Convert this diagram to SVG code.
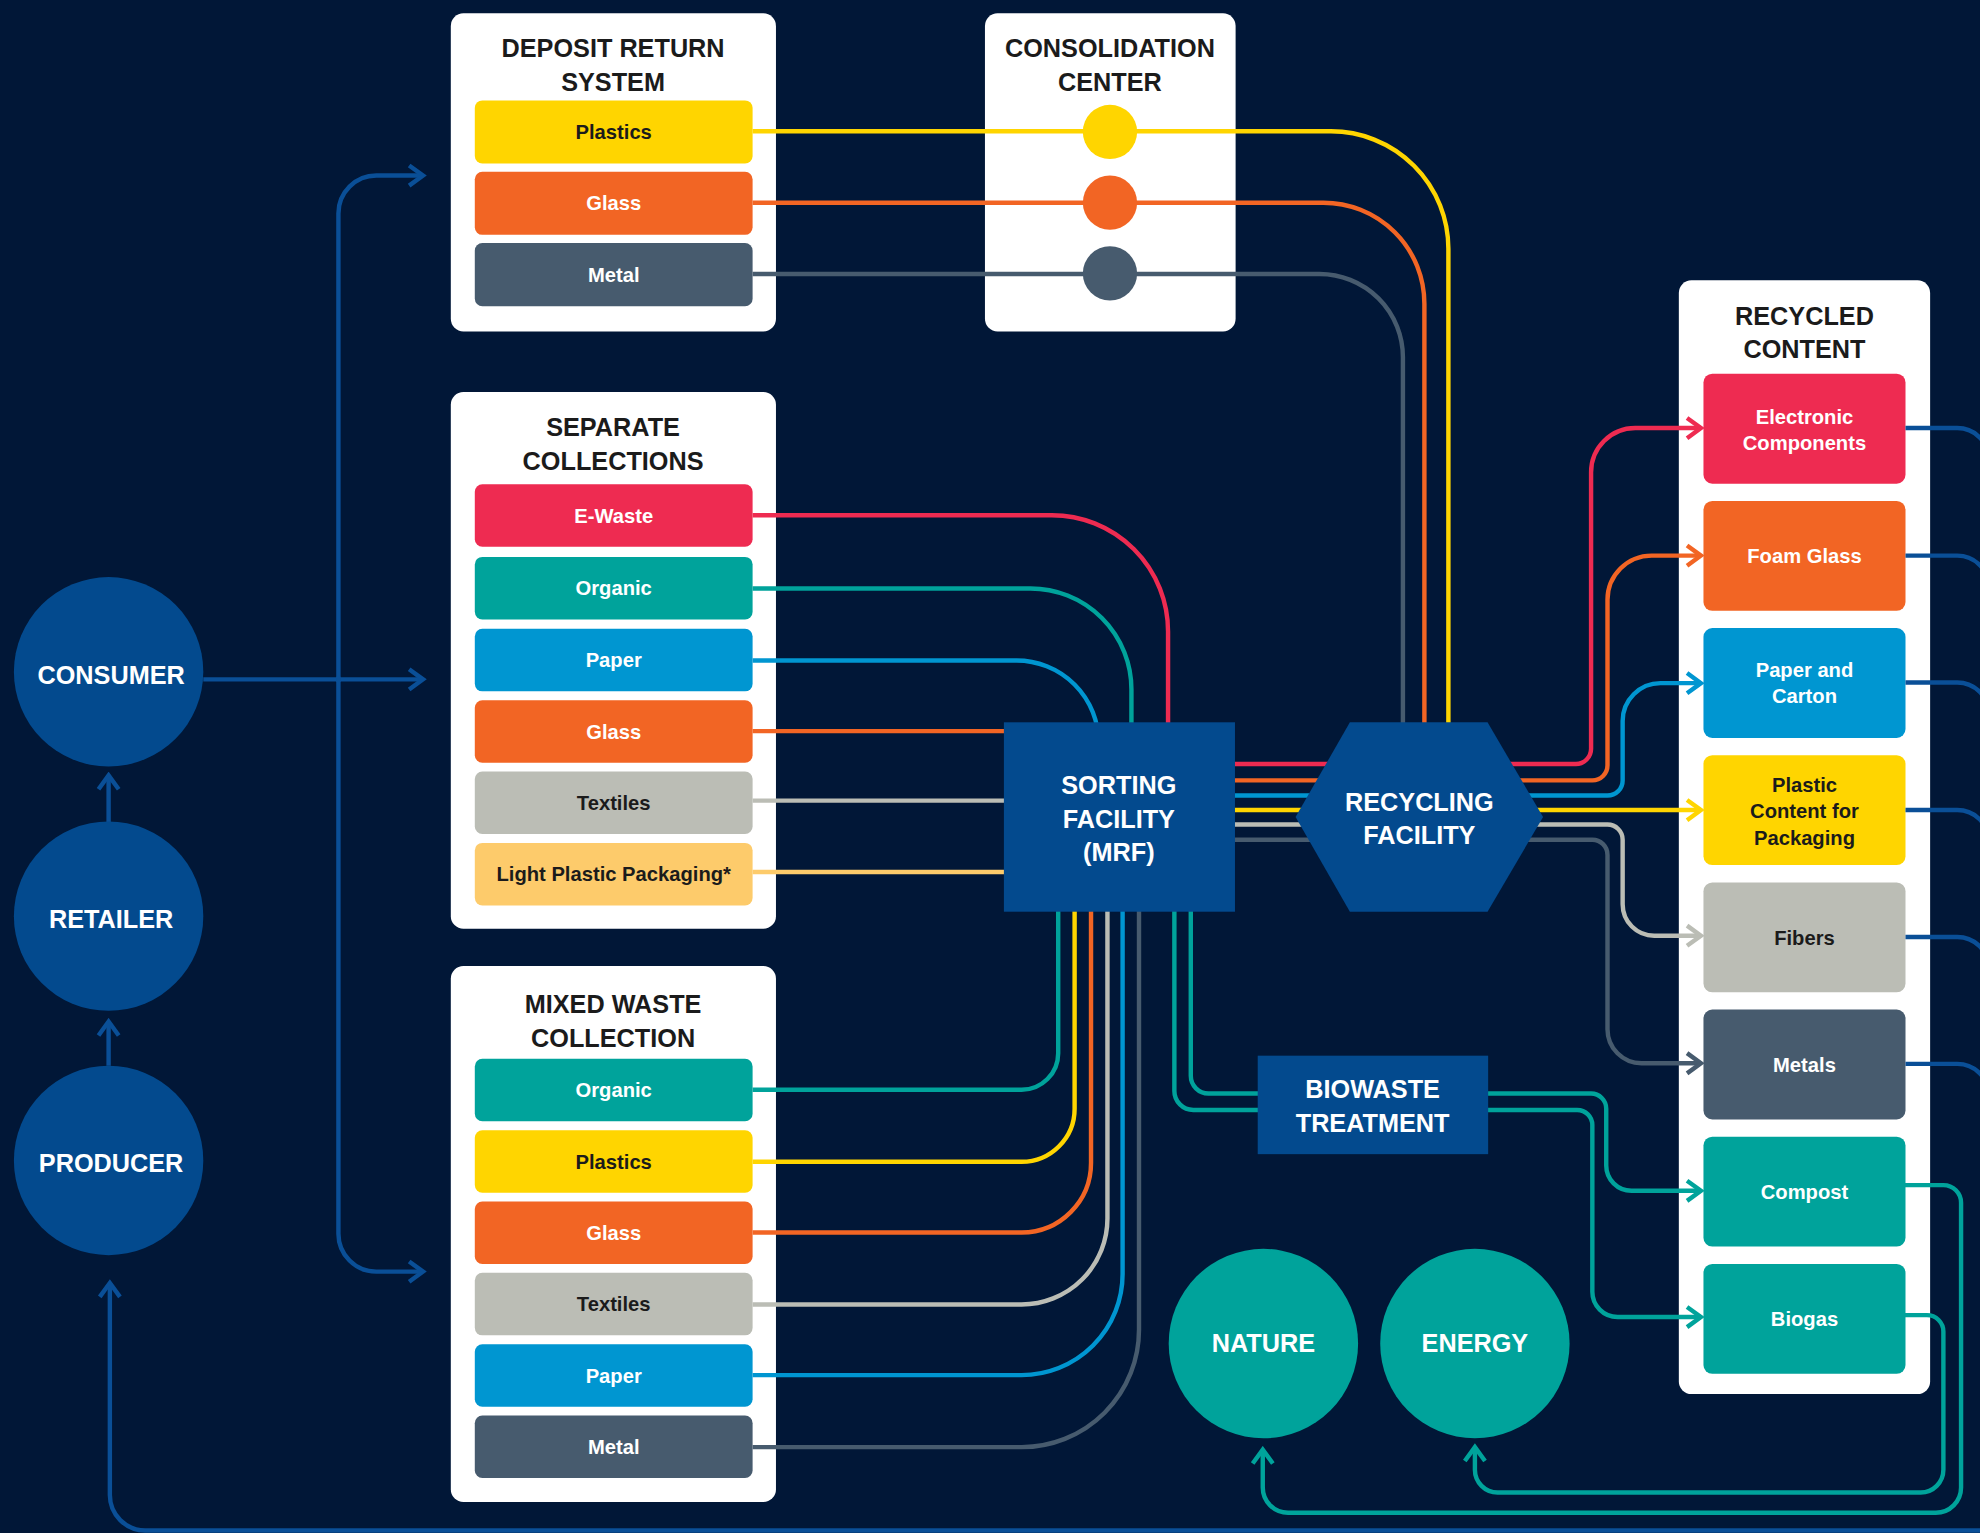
<svg xmlns="http://www.w3.org/2000/svg" width="1980" height="1533" viewBox="0 0 1980 1533">
<style>
.card{fill:#ffffff}
.ttl{font-family:"Liberation Sans",Arial,sans-serif;font-weight:bold;font-size:20px;fill:#1b1b1b;text-anchor:middle}
.lbl{font-family:"Liberation Sans",Arial,sans-serif;font-weight:bold;font-size:16px;text-anchor:middle}
.nl{font-family:"Liberation Sans",Arial,sans-serif;font-weight:bold;font-size:20px;fill:#ffffff;text-anchor:middle}
.w{fill:#ffffff}
.d{fill:#1b1b1b}
.ln{fill:none;stroke-width:3.5}
.node{fill:#034A8E}
.tealnode{fill:#00A39B}
.yel{stroke:#FFD500}.ora{stroke:#F26524}.sla{stroke:#475B6E}.red{stroke:#EE2B51}
.tea{stroke:#00A39B}.cya{stroke:#0096D1}.gry{stroke:#BBBDB5}.lyl{stroke:#FDCB6B}.blu{stroke:#0A4F97}
.fyel{fill:#FFD500}.fora{fill:#F26524}.fsla{fill:#475B6E}.fred{fill:#EE2B51}
.ftea{fill:#00A39B}.fcya{fill:#0096D1}.fgry{fill:#BBBDB5}.flyl{fill:#FDCB6B}
</style>
<defs>
<marker id="a-blu" markerUnits="userSpaceOnUse" viewBox="-14 -11 17 22" markerWidth="17" markerHeight="22" refX="0" refY="0" orient="auto"><path d="M-11,-8 L0,0 L-11,8" fill="none" stroke="#0A4F97" stroke-width="3.5"/></marker>
<marker id="a-red" markerUnits="userSpaceOnUse" viewBox="-14 -11 17 22" markerWidth="17" markerHeight="22" refX="0" refY="0" orient="auto"><path d="M-11,-8 L0,0 L-11,8" fill="none" stroke="#EE2B51" stroke-width="3.5"/></marker>
<marker id="a-ora" markerUnits="userSpaceOnUse" viewBox="-14 -11 17 22" markerWidth="17" markerHeight="22" refX="0" refY="0" orient="auto"><path d="M-11,-8 L0,0 L-11,8" fill="none" stroke="#F26524" stroke-width="3.5"/></marker>
<marker id="a-cya" markerUnits="userSpaceOnUse" viewBox="-14 -11 17 22" markerWidth="17" markerHeight="22" refX="0" refY="0" orient="auto"><path d="M-11,-8 L0,0 L-11,8" fill="none" stroke="#0096D1" stroke-width="3.5"/></marker>
<marker id="a-yel" markerUnits="userSpaceOnUse" viewBox="-14 -11 17 22" markerWidth="17" markerHeight="22" refX="0" refY="0" orient="auto"><path d="M-11,-8 L0,0 L-11,8" fill="none" stroke="#FFD500" stroke-width="3.5"/></marker>
<marker id="a-gry" markerUnits="userSpaceOnUse" viewBox="-14 -11 17 22" markerWidth="17" markerHeight="22" refX="0" refY="0" orient="auto"><path d="M-11,-8 L0,0 L-11,8" fill="none" stroke="#BBBDB5" stroke-width="3.5"/></marker>
<marker id="a-sla" markerUnits="userSpaceOnUse" viewBox="-14 -11 17 22" markerWidth="17" markerHeight="22" refX="0" refY="0" orient="auto"><path d="M-11,-8 L0,0 L-11,8" fill="none" stroke="#475B6E" stroke-width="3.5"/></marker>
<marker id="a-tea" markerUnits="userSpaceOnUse" viewBox="-14 -11 17 22" markerWidth="17" markerHeight="22" refX="0" refY="0" orient="auto"><path d="M-11,-8 L0,0 L-11,8" fill="none" stroke="#00A39B" stroke-width="3.5"/></marker>
</defs>
<rect x="0" y="0" width="1980" height="1533" fill="#011737"/>
<g transform="scale(1.26276)">

<g id="drs">
<rect class="card" x="357" y="10.5" width="257.5" height="252" rx="10"/>
<text class="ttl" x="485.5" y="45">DEPOSIT RETURN</text>
<text class="ttl" x="485.5" y="72">SYSTEM</text>
<rect class="fyel" x="376" y="79.5" width="220" height="50" rx="6"/>
<text class="lbl d" x="486" y="110">Plastics</text>
<rect class="fora" x="376" y="136" width="220" height="50" rx="6"/>
<text class="lbl w" x="486" y="166.5">Glass</text>
<rect class="fsla" x="376" y="192.5" width="220" height="50" rx="6"/>
<text class="lbl w" x="486" y="223">Metal</text>
</g>

<g id="consolidation-center">
<rect class="card" x="780" y="10.5" width="198.5" height="252" rx="10"/>
<text class="ttl" x="879" y="45">CONSOLIDATION</text>
<text class="ttl" x="879" y="72">CENTER</text>
</g>

<g id="separate-collections">
<rect class="card" x="357" y="310.5" width="257.5" height="425" rx="10"/>
<text class="ttl" x="485.5" y="345.5">SEPARATE</text>
<text class="ttl" x="485.5" y="372">COLLECTIONS</text>
<rect class="fred" x="376" y="383.5" width="220" height="49.5" rx="6"/>
<text class="lbl w" x="486" y="414">E-Waste</text>
<rect class="ftea" x="376" y="441" width="220" height="49.5" rx="6"/>
<text class="lbl w" x="486" y="471.5">Organic</text>
<rect class="fcya" x="376" y="498" width="220" height="49.5" rx="6"/>
<text class="lbl w" x="486" y="528.5">Paper</text>
<rect class="fora" x="376" y="554.5" width="220" height="49.5" rx="6"/>
<text class="lbl w" x="486" y="585">Glass</text>
<rect class="fgry" x="376" y="611" width="220" height="49.5" rx="6"/>
<text class="lbl d" x="486" y="641.5">Textiles</text>
<rect class="flyl" x="376" y="667.5" width="220" height="49.5" rx="6"/>
<text class="lbl d" x="486" y="698">Light Plastic Packaging*</text>
</g>

<g id="mixed-waste-collection">
<rect class="card" x="357" y="765" width="257.5" height="424.5" rx="10"/>
<text class="ttl" x="485.5" y="802.5">MIXED WASTE</text>
<text class="ttl" x="485.5" y="829">COLLECTION</text>
<rect class="ftea" x="376" y="838.5" width="220" height="49.5" rx="6"/>
<text class="lbl w" x="486" y="869">Organic</text>
<rect class="fyel" x="376" y="895" width="220" height="49.5" rx="6"/>
<text class="lbl d" x="486" y="925.5">Plastics</text>
<rect class="fora" x="376" y="951.5" width="220" height="49.5" rx="6"/>
<text class="lbl w" x="486" y="982">Glass</text>
<rect class="fgry" x="376" y="1008" width="220" height="49.5" rx="6"/>
<text class="lbl d" x="486" y="1038.5">Textiles</text>
<rect class="fcya" x="376" y="1064.5" width="220" height="49.5" rx="6"/>
<text class="lbl w" x="486" y="1095">Paper</text>
<rect class="fsla" x="376" y="1121" width="220" height="49.5" rx="6"/>
<text class="lbl w" x="486" y="1151.5">Metal</text>
</g>

<g id="recycled-content">
<rect class="card" x="1329.5" y="222" width="199" height="882" rx="10"/>
<text class="ttl" x="1429" y="257">RECYCLED</text>
<text class="ttl" x="1429" y="283.5">CONTENT</text>
<rect class="fred" x="1349" y="296" width="160" height="87" rx="7"/>
<text class="lbl w" x="1429" y="335.5">Electronic</text>
<text class="lbl w" x="1429" y="356.5">Components</text>
<rect class="fora" x="1349" y="396.7" width="160" height="87" rx="7"/>
<text class="lbl w" x="1429" y="446">Foam Glass</text>
<rect class="fcya" x="1349" y="497.4" width="160" height="87" rx="7"/>
<text class="lbl w" x="1429" y="536">Paper and</text>
<text class="lbl w" x="1429" y="557">Carton</text>
<rect class="fyel" x="1349" y="598.1" width="160" height="87" rx="7"/>
<text class="lbl d" x="1429" y="627">Plastic</text>
<text class="lbl d" x="1429" y="648">Content for</text>
<text class="lbl d" x="1429" y="669">Packaging</text>
<rect class="fgry" x="1349" y="698.8" width="160" height="87" rx="7"/>
<text class="lbl d" x="1429" y="748">Fibers</text>
<rect class="fsla" x="1349" y="799.5" width="160" height="87" rx="7"/>
<text class="lbl w" x="1429" y="849">Metals</text>
<rect class="ftea" x="1349" y="900.2" width="160" height="87" rx="7"/>
<text class="lbl w" x="1429" y="949.5">Compost</text>
<rect class="ftea" x="1349" y="1000.9" width="160" height="87" rx="7"/>
<text class="lbl w" x="1429" y="1050">Biogas</text>
</g>

<g id="connectors">
<!-- left side flows -->
<path class="ln blu" d="M161,538 H335" marker-end="url(#a-blu)"/>
<path class="ln blu" d="M268,540 V169 A30,30 0 0 1 298,139 H335" marker-end="url(#a-blu)"/>
<path class="ln blu" d="M268,536 V977 A30,30 0 0 0 298,1007 H335" marker-end="url(#a-blu)"/>
<path class="ln blu" d="M86,651 V614" marker-end="url(#a-blu)"/>
<path class="ln blu" d="M86,844 V809" marker-end="url(#a-blu)"/>
<path class="ln blu" d="M1570,1212 H115 A28,28 0 0 1 87,1184 V1016" marker-end="url(#a-blu)"/>
<!-- deposit return system -> recycling facility -->
<path class="ln yel" d="M596,104 H1054 A93,93 0 0 1 1147,197 V585"/>
<path class="ln ora" d="M596,160.5 H1048 A80,80 0 0 1 1128,240.5 V585"/>
<path class="ln sla" d="M596,217 H1045 A66,66 0 0 1 1111,283 V585"/>
<!-- separate collections -> sorting -->
<path class="ln red" d="M596,408 H833 A92,92 0 0 1 925,500 V585"/>
<path class="ln tea" d="M596,466 H816 A80,80 0 0 1 896,546 V585"/>
<path class="ln cya" d="M596,523 H805 A65,65 0 0 1 870,588 V592"/>
<path class="ln ora" d="M596,579 H805"/>
<path class="ln gry" d="M596,634 H805"/>
<path class="ln lyl" d="M596,690.5 H805"/>
<!-- mixed waste -> sorting -->
<path class="ln tea" d="M596,863 H809 A29,29 0 0 0 838,834 V712"/>
<path class="ln yel" d="M596,920 H809 A42,42 0 0 0 851,878 V712"/>
<path class="ln ora" d="M596,976 H809 A55,55 0 0 0 864,921 V712"/>
<path class="ln gry" d="M596,1033 H809 A68,68 0 0 0 877,965 V712"/>
<path class="ln cya" d="M596,1089 H809 A80,80 0 0 0 889,1009 V712"/>
<path class="ln sla" d="M596,1146 H809 A93,93 0 0 0 902,1053 V712"/>
<!-- sorting -> biowaste -->
<path class="ln tea" d="M930,712 V864 A15,15 0 0 0 945,879 H1000"/>
<path class="ln tea" d="M943,712 V852 A14,14 0 0 0 957,866 H1000"/>
<!-- sorting -> recycling -> recycled content -->
<path class="ln red" d="M975,605 H1248 A12,12 0 0 0 1260,593 V374 A35,35 0 0 1 1295,339 H1347" marker-end="url(#a-red)"/>
<path class="ln ora" d="M975,618 H1261 A12,12 0 0 0 1273,606 V475 A35,35 0 0 1 1308,440 H1347" marker-end="url(#a-ora)"/>
<path class="ln cya" d="M975,630 H1273 A12,12 0 0 0 1285,618 V571 A30,30 0 0 1 1315,541 H1347" marker-end="url(#a-cya)"/>
<path class="ln yel" d="M975,641.5 H1347" marker-end="url(#a-yel)"/>
<path class="ln gry" d="M975,653 H1273 A12,12 0 0 1 1285,665 V716 A25,25 0 0 0 1310,741 H1347" marker-end="url(#a-gry)"/>
<path class="ln sla" d="M975,665 H1261 A12,12 0 0 1 1273,677 V815 A27,27 0 0 0 1300,842 H1347" marker-end="url(#a-sla)"/>
<!-- biowaste -> compost / biogas -->
<path class="ln tea" d="M1175,866 H1260 A12,12 0 0 1 1272,878 V923 A20,20 0 0 0 1292,943 H1347" marker-end="url(#a-tea)"/>
<path class="ln tea" d="M1175,879 H1249 A12,12 0 0 1 1261,891 V1023 A20,20 0 0 0 1281,1043 H1347" marker-end="url(#a-tea)"/>
<!-- compost -> nature, biogas -> energy -->
<path class="ln tea" d="M1508,938.5 H1539 A14,14 0 0 1 1553,952.5 V1178 A20,20 0 0 1 1533,1198 H1020 A20,20 0 0 1 1000,1178 V1148" marker-end="url(#a-tea)"/>
<path class="ln tea" d="M1508,1041.5 H1526 A13,13 0 0 1 1539,1054.5 V1164 A18,18 0 0 1 1521,1182 H1186 A18,18 0 0 1 1168,1164 V1146" marker-end="url(#a-tea)"/>
<!-- recycled content outputs -->
<path class="ln blu" d="M1509,339 H1550 A25,25 0 0 1 1575,364"/>
<path class="ln blu" d="M1509,440 H1550 A25,25 0 0 1 1575,465"/>
<path class="ln blu" d="M1509,540.5 H1550 A25,25 0 0 1 1575,565.5"/>
<path class="ln blu" d="M1509,641.5 H1550 A25,25 0 0 1 1575,666.5"/>
<path class="ln blu" d="M1509,742 H1550 A25,25 0 0 1 1575,767"/>
<path class="ln blu" d="M1509,842.5 H1550 A25,25 0 0 1 1575,867.5"/>
</g>

<g id="consolidation-points">
<circle class="fyel" cx="879" cy="104.5" r="21.5"/>
<circle class="fora" cx="879" cy="160.5" r="21.5"/>
<circle class="fsla" cx="879" cy="216.5" r="21.5"/>
</g>

<g id="consumer">
<circle class="node" cx="86" cy="532" r="75"/>
<text class="nl" x="88" y="541.5">CONSUMER</text>
</g>
<g id="retailer">
<circle class="node" cx="86" cy="725.5" r="75"/>
<text class="nl" x="88" y="735">RETAILER</text>
</g>
<g id="producer">
<circle class="node" cx="86" cy="919" r="75"/>
<text class="nl" x="88" y="928">PRODUCER</text>
</g>

<g id="sorting-facility">
<rect class="node" x="795" y="572" width="183" height="150"/>
<text class="nl" x="886" y="629">SORTING</text>
<text class="nl" x="886" y="655.5">FACILITY</text>
<text class="nl" x="886" y="682">(MRF)</text>
</g>

<g id="recycling-facility">
<polygon class="node" points="1069,572 1178,572 1222,647 1178,722 1069,722 1026,647"/>
<text class="nl" x="1124" y="642">RECYCLING</text>
<text class="nl" x="1124" y="668.5">FACILITY</text>
</g>

<g id="biowaste-treatment">
<rect class="node" x="996" y="836" width="182.5" height="78"/>
<text class="nl" x="1087" y="869.5">BIOWASTE</text>
<text class="nl" x="1087" y="896.5">TREATMENT</text>
</g>

<g id="nature">
<circle class="tealnode" cx="1000.5" cy="1064" r="75"/>
<text class="nl" x="1000.5" y="1070.5">NATURE</text>
</g>
<g id="energy">
<circle class="tealnode" cx="1168" cy="1064" r="75"/>
<text class="nl" x="1168" y="1070.5">ENERGY</text>
</g>

</g>
</svg>
